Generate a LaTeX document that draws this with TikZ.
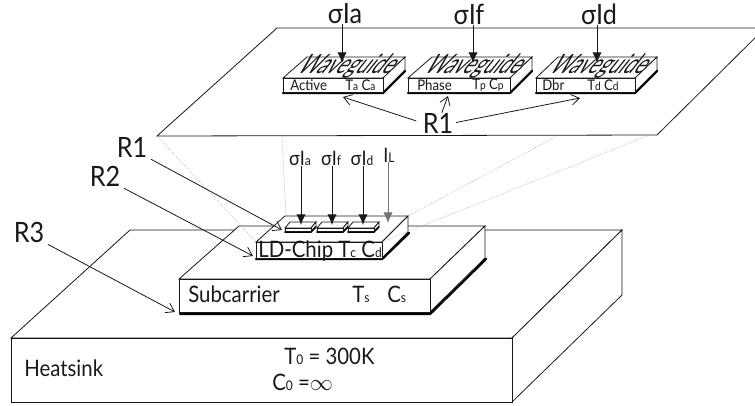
\documentclass[tikz,border=0pt]{standalone}
\usepackage{fontspec}
\setmainfont[FakeStretch=0.9]{Lato}
\newfontfamily\wavefont[FakeSlant=0.8,FakeStretch=0.72]{Lato}
\usetikzlibrary{arrows.meta}
\definecolor{figline}{RGB}{25,25,25}
\definecolor{figdot}{RGB}{170,170,170}
\newcommand{\lowsub}[1]{{\fontsize{10}{10}\selectfont #1}}
\newcommand{\tinysub}[1]{{\fontsize{8.5}{8.5}\selectfont #1}}
\tikzset{
  sc/.style    ={draw=figline, line width=0.6pt, fill=white, line join=miter},
  thk/.style   ={draw=black, line width=1.8pt, line cap=round},
  thn/.style   ={draw=black, line width=1.2pt, line cap=round},
  dots/.style  ={draw=figdot, line width=0.5pt, densely dotted},
  ptro/.style  ={draw=figline, line width=0.6pt, -{Straight Barb[length=6pt,width=8pt]}},
  ptrf/.style  ={draw=figline, line width=0.7pt, -{Latex[length=8pt,width=7pt]}},
  lab/.style   ={font=\fontsize{17}{17}\selectfont, inner sep=0pt, text=figline},
  labb/.style  ={font=\fontsize{21}{21}\selectfont, inner sep=0pt, text=figline},
  labm/.style  ={font=\fontsize{15}{15}\selectfont, inner sep=0pt, text=figline},
  labs/.style  ={font=\fontsize{11}{11}\selectfont, inner sep=0pt, text=figline},
  wave/.style  ={font=\wavefont\fontsize{20}{20}\selectfont, inner sep=0pt, text=figline},
}
\begin{document}
\begin{tikzpicture}[x=0.75pt,y=-0.75pt]
  \clip (0,0) rectangle (755,405);
  % plane
  \draw[sc,fill=none] (157,136) -- (277,28) -- (765,28) -- (657,135) -- cycle;
  % waveguide blocks
  \draw[thk] (283,93) -- (383,93) -- (405,71);
  \draw[sc] (283,78) -- (307,57) -- (405,57) -- (383,78) -- cycle;
  \draw[sc] (405,57) -- (405,70) -- (383,92) -- (383,78) -- cycle;
  \draw[sc] (283,78) rectangle (383,92);
  \draw[thk] (408,93) -- (510,93) -- (532,71);
  \draw[sc] (408,78) -- (432,57) -- (532,57) -- (510,78) -- cycle;
  \draw[sc] (532,57) -- (532,70) -- (510,92) -- (510,78) -- cycle;
  \draw[sc] (408,78) rectangle (510,92);
  \draw[thk] (536,93) -- (635,93) -- (657,71);
  \draw[sc] (536,78) -- (558,57) -- (657,57) -- (635,78) -- cycle;
  \draw[sc] (657,57) -- (657,70) -- (635,92) -- (635,78) -- cycle;
  \draw[sc] (536,78) rectangle (635,92);
  \node[wave] (wga) at (343,66) {Waveguide};
  \node[wave] (wgf) at (470,66) {Waveguide};
  \node[wave] (wgd) at (595,66) {Waveguide};
  \node[labs,anchor=west] (acta) at (290,85) {Active};
  \node[labs,anchor=west] (tca) at (345,85) {T\tinysub{a} C\tinysub{a}};
  \node[labs,anchor=west] (actf) at (417,85) {Phase};
  \node[labs,anchor=west] (tcf) at (472,85) {T\tinysub{p} C\tinysub{p}};
  \node[labs,anchor=west] (actd) at (542,85) {Dbr};
  \node[labs,anchor=west] (tcd) at (587,85) {T\tinysub{d} C\tinysub{d}};
  % heatsink
  \draw[sc] (11,338) -- (130,230) -- (622,230) -- (512,338) -- cycle;
  \draw[sc] (622,230) -- (622,295) -- (512,402) -- (512,338) -- cycle;
  \draw[sc] (11,338) rectangle (512,402);
  \node[lab,anchor=west] (hsink) at (24,368) {Heatsink};
  \node[lab,anchor=west] (tzero) at (284,356) {T\lowsub{0} = 300K};
  \node[lab,anchor=west] (czero) at (272,382) {C\lowsub{0} =$\mathbf{\infty}$};
  % subcarrier
  \draw[thk] (180,314) -- (430,314) -- (486,259);
  \draw[sc] (179,279) -- (239,226) -- (485,226) -- (430,279) -- cycle;
  \draw[sc] (485,226) -- (485,258) -- (430,312) -- (430,279) -- cycle;
  \draw[sc] (179,279) rectangle (430,312);
  \node[lab,anchor=west] (subc) at (188,294) {Subcarrier};
  \node[lab,anchor=west] (ts) at (352,294) {T\lowsub{s}};
  \node[lab,anchor=west] (cs) at (387,294) {C\lowsub{s}};
  % chip
  \draw[thk] (256,259) -- (382,259) -- (409,233);
  \draw[sc] (256,242) -- (285,216) -- (408,216) -- (382,242) -- cycle;
  \draw[sc] (408,216) -- (408,232) -- (382,258) -- (382,242) -- cycle;
  \draw[sc] (256,242) rectangle (382,258);
  \node[lab,anchor=west] (chip) at (258,251) {LD-Chip T\lowsub{c} C\lowsub{d}};
  % pads
  \draw[thn] (285,232) -- (311,232) -- (316,227);
  \draw[sc] (285,228) -- (290,222) -- (316,222) -- (311,228) -- cycle;
  \draw[sc] (316,222) -- (316,226) -- (311,231) -- (311,228) -- cycle;
  \draw[sc] (285,228) rectangle (311,231);
  \draw[thn] (317,232) -- (343,232) -- (348,227);
  \draw[sc] (317,228) -- (322,222) -- (348,222) -- (343,228) -- cycle;
  \draw[sc] (348,222) -- (348,226) -- (343,231) -- (343,228) -- cycle;
  \draw[sc] (317,228) rectangle (343,231);
  \draw[thn] (348,232) -- (374,232) -- (379,227);
  \draw[sc] (348,228) -- (353,222) -- (379,222) -- (374,228) -- cycle;
  \draw[sc] (379,222) -- (379,226) -- (374,231) -- (374,228) -- cycle;
  \draw[sc] (348,228) rectangle (374,231);
  % dotted projection
  \coordinate (pl1) at (157,136);
  \coordinate (pl2) at (282,136);
  \coordinate (pl3) at (557,136);
  \coordinate (pl4) at (647,136);
  \coordinate (ch1) at (256,242);
  \coordinate (ch2) at (286,216);
  \coordinate (ch3) at (408,216);
  \coordinate (ch4) at (382,242);
  \draw[dots] (pl1) -- (ch1);
  \draw[dots] (pl2) -- (ch2);
  \draw[dots] (pl3) -- (ch3);
  \draw[dots] (pl4) -- (ch4);
  % top labels
  \node[labb] (siga) at (345,14) {σIa};
  \node[labb] (sigf) at (469,14) {σIf};
  \node[labb] (sigd) at (599,14) {σId};
  \coordinate (tipa) at (342,63);
  \coordinate (tipf) at (473,63);
  \coordinate (tipd) at (597,63);
  \draw[ptrf] (tipa |- siga.south) -- (tipa);
  \draw[ptrf] (tipf |- sigf.south) -- (tipf);
  \draw[ptrf] (tipd |- sigd.south) -- (tipd);
  \node[labb] (rone) at (438,123) {R1};
  \coordinate (ra) at (343,97);
  \coordinate (rf) at (448,96);
  \coordinate (rd) at (580,98);
  \draw[ptro,shorten <=5pt] (rone.west) -- (ra);
  \draw[ptro] (rone) -- (rf);
  \draw[ptro,shorten <=2pt] (rone.east) -- (rd);
  % chip labels
  \node[labm] (chsa) at (300,158) {σI\lowsub{a}};
  \node[labm] (chsf) at (331,158) {σI\lowsub{f}};
  \node[labm] (chsd) at (362,158) {σI\lowsub{d}};
  \node[labm] (chil) at (389,155) {I\lowsub{L}};
  \coordinate (tcha) at (301,225);
  \coordinate (tchf) at (332,225);
  \coordinate (tchd) at (363,225);
  \coordinate (tchl) at (388,223);
  \draw[ptrf] (tcha |- chsa.south) -- (tcha);
  \draw[ptrf] (tchf |- chsf.south) -- (tchf);
  \draw[ptrf] (tchd |- chsd.south) -- (tchd);
  \draw[ptrf,draw=black!55] (tchl |- chil.south) -- (tchl);
  % left labels
  \node[labb] (rchip) at (132,147) {R1};
  \node[labb] (rsub) at (105,176) {R2};
  \node[labb] (rheat) at (29,232) {R3};
  \coordinate (trchip) at (282,230);
  \coordinate (trsub) at (253,256);
  \coordinate (trheat) at (175,312);
  \draw[ptro,shorten <=3pt] (rchip.south east) -- (trchip);
  \draw[ptro,shorten <=3pt] (rsub.south east) -- (trsub);
  \draw[ptro,shorten <=3pt] (rheat.south east) -- (trheat);
\end{tikzpicture}
\end{document}
